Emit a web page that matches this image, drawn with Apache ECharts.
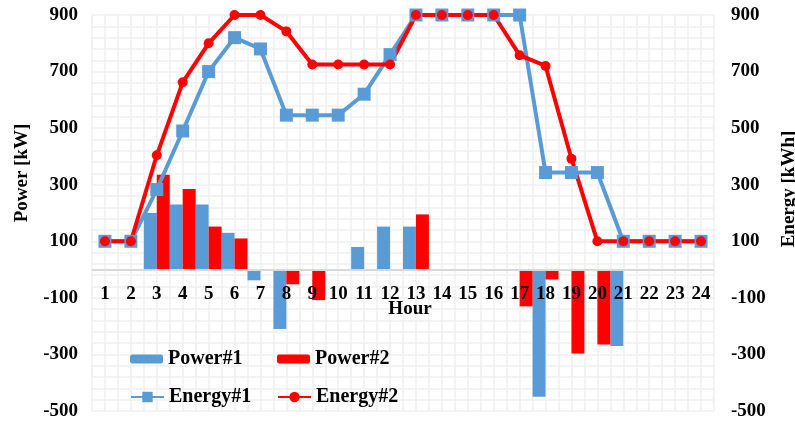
<!DOCTYPE html>
<html>
<head>
<meta charset="utf-8">
<script src="https://cdn.jsdelivr.net/npm/echarts@6/dist/echarts.min.js"></script>
<style>
  html, body { margin: 0; padding: 0; background: #fff; }
  #chart { width: 795px; height: 422px; }
</style>
</head>
<body>
<div id="chart"></div>
<script>
// Hourly power (bars, left axis) and stored energy (lines, right axis) for two units
var hours = ['1','2','3','4','5','6','7','8','9','10','11','12','13','14','15','16','17','18','19','20','21','22','23','24'];
var power1 = [0, 0, 200, 230, 230, 130, -38, -210, 0, 0, 80, 152, 152, 0, 0, 0, 0, -450, 0, 0, -270, 0, 0, 0];
var power2 = [0, 0, 335, 285, 152, 110, 0, -52, -108, 0, 0, 0, 195, 0, 0, 0, -130, -35, -297, -265, 0, 0, 0, 0];
var energy1 = [100, 100, 283, 490, 700, 820, 780, 546, 546, 546, 620, 760, 900, 900, 900, 900, 900, 343, 343, 343, 100, 100, 100, 100];
var energy2 = [100, 100, 404, 662, 800, 900, 900, 842, 725, 725, 725, 725, 900, 900, 900, 900, 758, 720, 392, 100, 100, 100, 100, 100];
var axisMin = -500, axisMax = 900, axisStep = 200;

var BLUE = '#5B9BD5', RED = '#FF0000';
var FONT = "'Liberation Serif', 'Times New Roman', serif";
var GRID = '#EFEFEF';

// half-hour slots for the fine vertical grid
var halfSlots = [];
for (var i = 0; i < hours.length * 2; i++) halfSlots.push('');

var labelStyle = { fontFamily: FONT, fontWeight: 'bold', fontSize: 19, color: '#000' };

function legendAt(name, left, top, w, h) {
  return {
    data: [name], left: left, top: top, padding: 0,
    itemWidth: w, itemHeight: h, itemGap: 0,
    textStyle: { fontFamily: FONT, fontWeight: 'bold', fontSize: 20, color: '#000' }
  };
}

function valueAxis(pos, margin) {
  return {
    type: 'value', position: pos, min: axisMin, max: axisMax, interval: axisStep,
    axisLine: { show: false }, axisTick: { show: false },
    axisLabel: Object.assign({ margin: margin }, labelStyle),
    splitLine: { show: pos === 'left', lineStyle: { color: GRID, width: 1.5 } },
    minorTick: { show: false, splitNumber: 5 },
    minorSplitLine: { show: pos === 'left', lineStyle: { color: GRID, width: 1.5 } }
  };
}

var chart = echarts.init(document.getElementById('chart'), null, { renderer: 'canvas' });
chart.setOption({
  animation: false,
  backgroundColor: '#fff',
  grid: { left: 92, right: 81, top: 15, bottom: 11, containLabel: false, outerBoundsMode: 'none' },
  legend: [
    legendAt('Power#1', 130, 349, 33, 9),
    legendAt('Power#2', 277, 349, 33, 9),
    legendAt('Energy#1', 130, 387, 33, 13),
    legendAt('Energy#2', 277, 387, 33, 13)
  ],
  xAxis: [
    {
      // hour labels sit just under the zero line, drawn above the bars
      type: 'category', data: hours, boundaryGap: true, position: 'bottom', z: 10,
      axisLine: { show: false, onZero: false },
      axisTick: { show: false },
      axisLabel: Object.assign({ margin: -126, interval: 0 }, labelStyle),
      splitLine: { show: false }
    },
    {
      type: 'category', data: halfSlots, boundaryGap: true, position: 'top',
      axisLine: { show: false, onZero: false }, axisTick: { show: false }, axisLabel: { show: false },
      splitLine: { show: true, interval: 0, lineStyle: { color: GRID, width: 1.5 } }
    }
  ],
  yAxis: [valueAxis('left', 14), valueAxis('right', 17)],
  graphic: [
    { type: 'text', z: 100, rotation: Math.PI / 2, x: 22, y: 173,
      style: { text: 'Power [kW]', font: 'bold 19px ' + FONT, fill: '#000', align: 'center', verticalAlign: 'middle' } },
    { type: 'text', z: 100, rotation: Math.PI / 2, x: 789, y: 189,
      style: { text: 'Energy [kWh]', font: 'bold 19px ' + FONT, fill: '#000', align: 'center', verticalAlign: 'middle' } },
    { type: 'text', z: 100, x: 410, y: 309,
      style: { text: 'Hour', font: 'bold 19px ' + FONT, fill: '#000', align: 'center', verticalAlign: 'middle' } }
  ],
  series: [
    { name: 'Power#1', type: 'bar', data: power1, itemStyle: { color: BLUE },
      barGap: '0%', barCategoryGap: '0%', yAxisIndex: 0,
      markLine: { silent: true, symbol: 'none', label: { show: false },
        lineStyle: { color: '#D9D9D9', width: 2, type: 'solid' }, data: [{ yAxis: 0 }] } },
    { name: 'Power#2', type: 'bar', data: power2, itemStyle: { color: RED },
      barGap: '0%', barCategoryGap: '0%', yAxisIndex: 0 },
    { name: 'Energy#1', type: 'line', data: energy1, yAxisIndex: 1,
      symbol: 'rect', symbolSize: 13, lineStyle: { color: BLUE, width: 4 },
      itemStyle: { color: BLUE } },
    { name: 'Energy#2', type: 'line', data: energy2, yAxisIndex: 1,
      symbol: 'circle', symbolSize: 10, lineStyle: { color: RED, width: 4 },
      itemStyle: { color: RED } }
  ]
});
</script>
</body>
</html>
